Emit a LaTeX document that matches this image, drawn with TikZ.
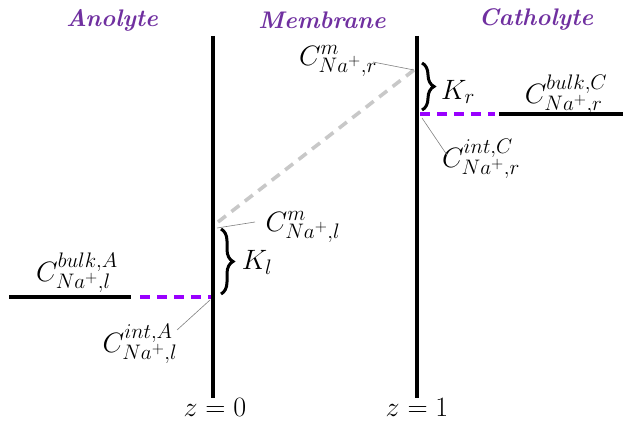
\RequirePackage{fix-cm}
\documentclass[tikz,border=0pt]{standalone}
\usetikzlibrary{decorations.pathreplacing}
\DeclareMathSizes{28}{28}{21}{16}
\definecolor{titlepurple}{RGB}{112,48,160}
\definecolor{dashpurple}{RGB}{153,0,255}
\definecolor{lightgrey}{RGB}{200,200,200}
\tikzset{
  title/.style={text=titlepurple,font=\fontsize{24}{28}\selectfont\bfseries\itshape},
  lab/.style={inner sep=0pt,font=\fontsize{28}{32}\selectfont},
  wall/.style={line width=4.2pt,black},
  bulk/.style={line width=3.6pt,black},
  film/.style={line width=3.6pt,dashpurple,dash pattern=on 10pt off 7pt},
  grad/.style={line width=3.6pt,lightgrey,dash pattern=on 10pt off 7pt},
  leader/.style={line width=0.6pt,gray},
  bracedeco/.style={decorate,decoration={brace,amplitude=12pt},line width=3pt}
}
\begin{document}
\begin{tikzpicture}[x=1pt,y=-1pt]
\useasboundingbox (0,0) rectangle (623,422);
% titles
\node[title] (tA) at (112,20) {Anolyte};
\node[title] (tM) at (322,20) {Membrane};
\node[title] (tC) at (536,19) {Catholyte};
% walls
\coordinate (w0t) at (213,36); \coordinate (w0b) at (213,398);
\coordinate (w1t) at (417,36); \coordinate (w1b) at (417,398);
\draw[wall] (w0t) -- (w0b);
\draw[wall] (w1t) -- (w1b);
% anolyte side
\coordinate (ab0) at (9,297); \coordinate (ab1) at (131,297);
\coordinate (af0) at (140,297); \coordinate (af1) at (211,297);
\draw[bulk] (ab0) -- (ab1);
\draw[film] (af0) -- (af1);
% catholyte side
\coordinate (cf0) at (420,114); \coordinate (cf1) at (495,114);
\coordinate (cb0) at (499,114); \coordinate (cb1) at (623,114);
\draw[film] (cf0) -- (cf1);
\draw[bulk] (cb0) -- (cb1);
% membrane gradient
\coordinate (g0) at (218,222); \coordinate (g1) at (414,70);
\draw[grad] (g0) -- (g1);
% braces
\coordinate (bl0) at (221,229); \coordinate (bl1) at (221,294);
\coordinate (br0) at (422,63); \coordinate (br1) at (422,110);
\draw[bracedeco] (bl0) -- (bl1);
\draw[bracedeco] (br0) -- (br1);
\node[lab] (Kl) at (257,262) {$K_l$};
\node[lab] (Kr) at (458,92) {$K_r$};
% labels
\node[lab] (bulkA) at (77,273) {$C^{bulk,A}_{Na^+,l}$};
\node[lab] (intA) at (140,344) {$C^{int,A}_{Na^+,l}$};
\node[lab] (mL) at (303,227) {$C^{m}_{Na^+,l}$};
\node[lab] (mR) at (338,61) {$C^{m}_{Na^+,r}$};
\node[lab] (bulkC) at (566,95) {$C^{bulk,C}_{Na^+,r}$};
\node[lab] (intC) at (481,159) {$C^{int,C}_{Na^+,r}$};
\node[lab,anchor=base] (z0) at (215,416) {$z=0$};
\node[lab,anchor=base] (z1) at (417,416) {$z=1$};
% leaders
\coordinate (lmL0) at (217,228); \coordinate (lmL1) at (255,222);
\coordinate (lmR0) at (373,62); \coordinate (lmR1) at (414,70);
\coordinate (liA0) at (177,330); \coordinate (liA1) at (210,300);
\coordinate (liC0) at (422,118); \coordinate (liC1) at (447,155);
\draw[leader] (lmL0) -- (lmL1);
\draw[leader] (lmR0) -- (lmR1);
\draw[leader] (liA0) -- (liA1);
\draw[leader] (liC0) -- (liC1);
\end{tikzpicture}
\end{document}
